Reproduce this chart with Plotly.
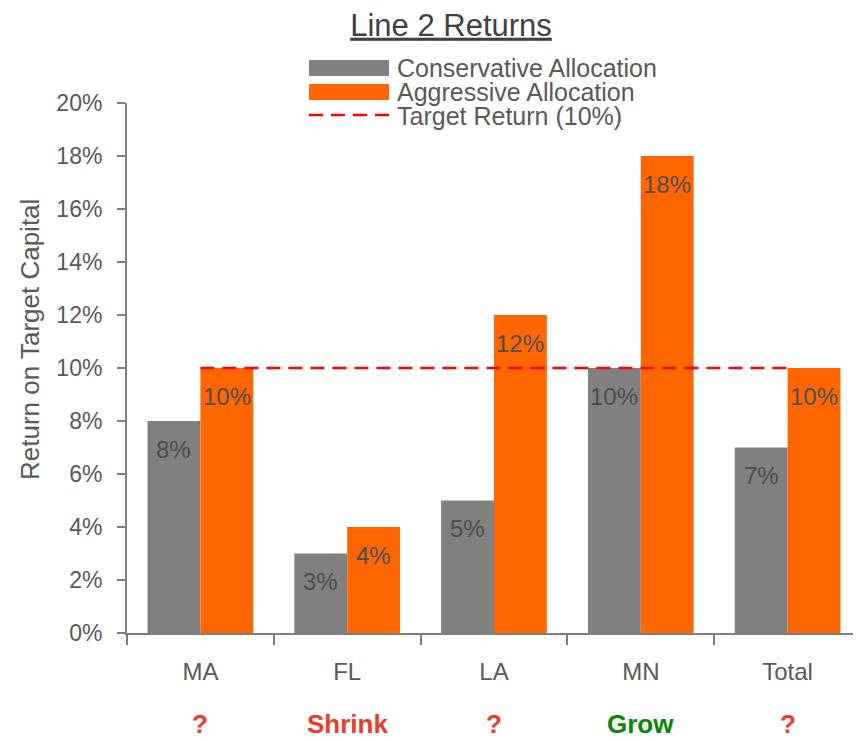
import plotly.graph_objects as go

categories = ["MA", "FL", "LA", "MN", "Total"]
conservative = [8, 3, 5, 10, 7]
aggressive = [10, 4, 12, 18, 10]
target = [10, 10, 10, 10, 10]
outlook = ["?", "Shrink", "?", "Grow", "?"]
outlook_colors = ["#EE3A2C", "#EE3A2C", "#EE3A2C", "#0A850A", "#EE3A2C"]
y_ticks = [0, 2, 4, 6, 8, 10, 12, 14, 16, 18, 20]

GRAY = "#808080"
ORANGE = "#FF6600"
FONT = "Arial, Liberation Sans, sans-serif"
TXT = "#595959"

# page body has an 8px margin; the figure is sized so it fills the 861x741 window
OFF = 8
W, H = 861 - OFF, 741 - OFF
ML, MR, MT = 127 - OFF, 0, 103 - OFF
MB = H - (633 - OFF)
PW = W - ML - MR
PH = H - MT - MB
BARGAP = 0.28


def px_x(px):
    return (px - OFF - ML) / PW


def px_y(py):
    return (H - MB - (py - OFF)) / PH


fig = go.Figure()
fig.add_trace(go.Bar(x=categories, y=conservative, name="Conservative Allocation",
                     marker=dict(color=GRAY, line=dict(width=0)), showlegend=False))
fig.add_trace(go.Bar(x=categories, y=aggressive, name="Aggressive Allocation",
                     marker=dict(color=ORANGE, line=dict(width=0)), showlegend=False))
fig.add_trace(go.Scatter(x=categories, y=target, mode="lines", name="Target Return (10%)",
                         line=dict(color="#FF0000", width=2.5, dash="14px,8px"), showlegend=False))

annotations = []
off = (1 - BARGAP) / 4
for i, (c, a) in enumerate(zip(conservative, aggressive)):
    for xv, v in ((i - off, c), (i + off, a)):
        annotations.append(dict(x=xv, y=v, xref="x", yref="y", text=f"{v}%", showarrow=False,
                                yshift=-28, yanchor="middle", xanchor="center",
                                font=dict(family=FONT, size=24, color="#4D4D4D")))

for cat, txt, col in zip(categories, outlook, outlook_colors):
    annotations.append(dict(x=cat, y=px_y(741), xref="x", yref="paper", text=f"<b>{txt}</b>",
                            showarrow=False, yanchor="bottom", xanchor="center",
                            font=dict(family=FONT, size=26, color=col)))

# y-axis title (placed like the reference, slightly above the plot's middle)
annotations.append(dict(x=px_x(30), y=px_y(340), xref="paper", yref="paper",
                        text="Return on Target Capital", textangle=-90, showarrow=False,
                        xanchor="center", yanchor="middle",
                        font=dict(family=FONT, size=26, color=TXT)))

# custom legend (wide swatches like the reference)
legend_items = [("Conservative Allocation", 68), ("Aggressive Allocation", 92), ("Target Return (10%)", 116)]
for label, cy in legend_items:
    annotations.append(dict(x=px_x(395), y=px_y(cy), xref="paper", yref="paper", text=label,
                            showarrow=False, xanchor="left", yanchor="middle",
                            font=dict(family=FONT, size=25, color=TXT)))

shapes = [
    dict(type="rect", xref="paper", yref="paper", x0=px_x(309), x1=px_x(389), y0=px_y(76), y1=px_y(60),
         fillcolor=GRAY, line=dict(width=0)),
    dict(type="rect", xref="paper", yref="paper", x0=px_x(309), x1=px_x(389), y0=px_y(100), y1=px_y(84),
         fillcolor=ORANGE, line=dict(width=0)),
    dict(type="line", xref="paper", yref="paper", x0=px_x(309), x1=px_x(389), y0=px_y(115), y1=px_y(115),
         line=dict(color="#FF0000", width=2.5, dash="14px,8px")),
]

fig.update_layout(
    width=W, height=H,
    margin=dict(l=ML, r=MR, t=MT, b=MB),
    paper_bgcolor="white", plot_bgcolor="white",
    barmode="group", bargap=BARGAP, bargroupgap=0,
    title=dict(text="<u>Line 2 Returns</u>", x=(451 - OFF) / W, xanchor="center",
               y=1, yref="container", yanchor="top", pad=dict(t=6),
               font=dict(family=FONT, size=31, color="#404040")),
    font=dict(family=FONT, color=TXT),
    showlegend=False,
    annotations=annotations,
    shapes=shapes,
)
fig.update_xaxes(type="category", tickson="boundaries", ticks="outside", ticklen=10, tickwidth=1.5,
                 tickcolor="#808080", showline=True, linecolor="#808080", linewidth=2,
                 showgrid=False, zeroline=False, ticklabelstandoff=16,
                 tickfont=dict(family=FONT, size=24, color=TXT))
fig.update_yaxes(range=[0, 20], tickvals=y_ticks, ticktext=[f"{t}%" for t in y_ticks],
                 ticks="outside", ticklen=8, tickwidth=1.5, tickcolor="#808080",
                 showline=True, linecolor="#808080", linewidth=2, showgrid=False, zeroline=False,
                 ticklabelstandoff=10, tickfont=dict(family=FONT, size=23, color=TXT))

fig.write_html("out.html")
